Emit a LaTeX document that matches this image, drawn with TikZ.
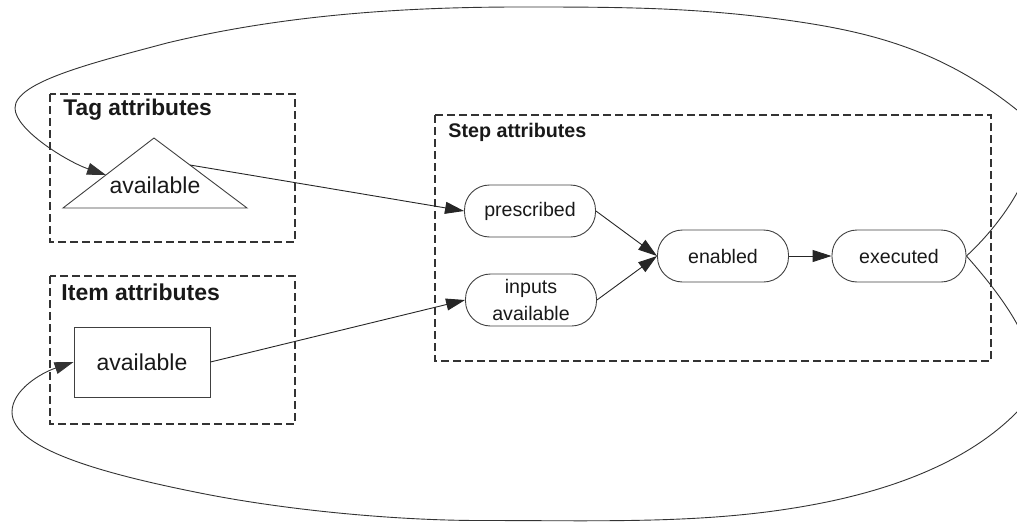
\documentclass[tikz,border=0pt]{standalone}
\usepackage{fontspec}
\setmainfont{Liberation Sans}
\usetikzlibrary{arrows.meta}

\begin{document}
\begin{tikzpicture}[x=1pt,y=-1pt,
  line width=0.9pt,
  group/.style={draw=black!80, dash pattern=on 8pt off 4pt, line width=1.2pt},
  grouptitle/.style={anchor=base west, inner sep=0, text=black!90},
  state/.style={draw=black!75, rounded corners=25pt, minimum width=131pt,
    minimum height=52pt, inner sep=0, align=center, text=black!90,
    font=\fontsize{19.6}{27}\selectfont},
  tip/.style={-{Triangle[length=19pt,width=12pt]}},
  flow/.style={tip, draw=black!85},
  loopline/.style={draw=black!80, line width=0.9pt}
]
\useasboundingbox (0,0) rectangle (1017,522);

% ---- Tag attributes ----
\draw[group] (50,94) rectangle (295,242);
\node[grouptitle, font=\fontsize{22.7}{27}\selectfont\bfseries] (tagtitle) at (63,115) {Tag attributes};
\draw[draw=black!75] (154,138) -- (247,208) -- (63,208) -- cycle;
\node[anchor=base, inner sep=0, text=black!90, font=\fontsize{23}{27}\selectfont] (tagavail) at (155,193) {available};
\coordinate (tagin) at (106,175);
\coordinate (tagout) at (190,165);

% ---- Item attributes ----
\draw[group] (50,276) rectangle (295,424);
\node[grouptitle, font=\fontsize{23}{27}\selectfont\bfseries] (itemtitle) at (61,300) {Item attributes};
\node[draw=black!75, minimum width=136pt, minimum height=70pt, inner sep=0,
  text=black!90, font=\fontsize{23}{27}\selectfont] (itemavail) at (142,362) {available};

% ---- Step attributes ----
\draw[group] (435,115) rectangle (991,361);
\node[grouptitle, font=\fontsize{19.7}{24}\selectfont\bfseries] (steptitle) at (448,137) {Step attributes};
\node[state] (prescribed) at (530,211) {prescribed};
\node[state] (inputs) at (531,300) {inputs\\[-0.5pt]available};
\node[state] (enabled) at (723,256) {enabled};
\node[state, minimum width=134pt] (executed) at (899,256) {executed};

% ---- connectors ----
\draw[flow] (tagout) -- (prescribed.west);
\draw[flow] (itemavail.east) -- (inputs.west);
\draw[flow] (prescribed.east) -- (enabled.west);
\draw[flow] (inputs.east) -- (enabled.west);
\draw[flow] (enabled.east) -- (executed.west);

% outer loop back to the tag
\draw[loopline, tip] (executed.east)
  .. controls (1010,216) and (1058,142) .. (1017,110)
  .. controls (947,54) and (880,34) .. (800,22)
  .. controls (700,7) and (620,7) .. (520,7)
  .. controls (410,7) and (287,14) .. (167,43)
  .. controls (92,63) and (15,82) .. (15,108)
  .. controls (15,130) and (68,162) .. (tagin);

% outer loop back to the item
\draw[loopline, tip] (executed.east)
  .. controls (1026,323) and (1052,377) .. (1017,412)
  .. controls (968,462) and (890,492) .. (800,507)
  .. controls (700,524) and (600,520.5) .. (480,520.5)
  .. controls (400,520.5) and (290,511) .. (200,493)
  .. controls (110,475) and (12,450) .. (12,412)
  .. controls (12,390) and (41,373) .. (itemavail.west);
\end{tikzpicture}
\end{document}
